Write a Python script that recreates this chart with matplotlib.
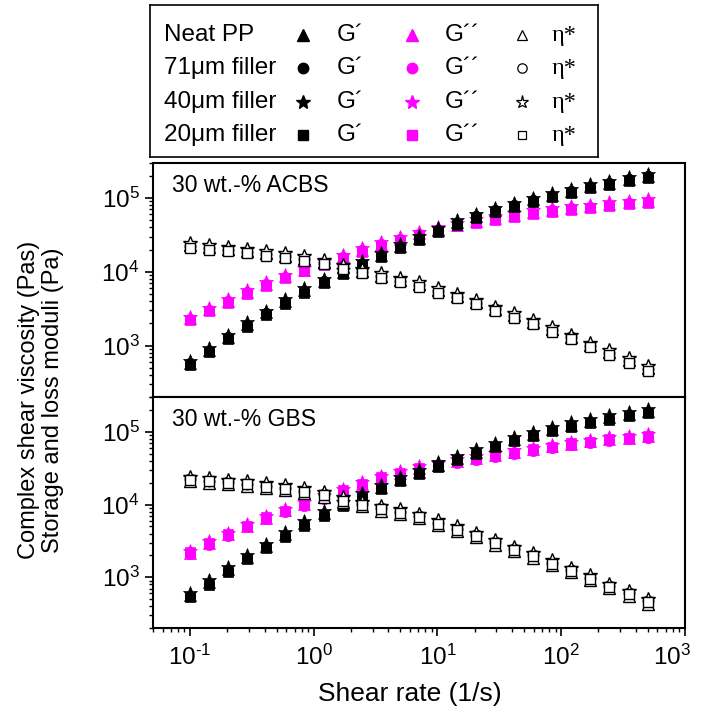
import numpy as np
import matplotlib.pyplot as plt
import matplotlib.transforms as mtransforms
from matplotlib.ticker import FuncFormatter

plt.rcParams['font.family'] = ['Liberation Sans', 'DejaVu Sans']
plt.rcParams['mathtext.fontset'] = 'custom'
plt.rcParams['mathtext.rm'] = 'Liberation Sans'

# shear rate (1/s), same for every run
rate = [0.1, 0.1426, 0.2033, 0.29, 0.4135, 0.5896, 0.8408, 1.199, 1.709, 2.437,
        3.475, 4.956, 7.068, 10.08, 14.37, 20.49, 29.22, 41.67, 59.41, 84.73,
        120.8, 172.3, 245.6, 350.3, 499.4]

fillers = ['Neat PP', '71\u03bcm filler', '40\u03bcm filler', '20\u03bcm filler']
markers = ['^', 'o', '*', 's']
msizes = [8.5, 7.5, 10.5, 7]

# ---- 30 wt.-% ACBS ----
# loss modulus G'' (Pa)
acbs_g2_neat = [2340, 3090, 4070, 5370, 6920, 8710, 10700, 13200, 16200, 20000, 24000, 28200, 33100,
                38000, 43700, 49000, 53700, 58900, 64600, 69200, 74100, 77600, 83200, 87100, 91200]
acbs_g2_71 = [2290, 3030, 3990, 5260, 6780, 8540, 10500, 12900, 15900, 19600, 23500, 27600, 32400,
              37200, 42800, 48000, 52600, 57700, 63300, 67800, 72600, 76000, 81500, 85400, 89400]
acbs_g2_40 = [2460, 3240, 4270, 5640, 7270, 9150, 11200, 13900, 17000, 21000, 25200, 29600, 34800,
              39900, 45900, 51500, 56400, 61800, 67800, 72700, 77800, 81500, 87400, 91500, 95800]
acbs_g2_20 = [2200, 2900, 3830, 5050, 6500, 8190, 10100, 12400, 15200, 18800, 22600, 26500, 31100,
              35700, 41100, 46100, 50500, 55400, 60700, 65000, 69700, 72900, 78200, 81900, 85700]
# storage modulus G' (Pa)
acbs_g1_neat = [589, 871, 1320, 1950, 2820, 3980, 5620, 7590, 10000, 13200, 17000, 22400, 28800,
                37200, 46800, 57500, 69200, 81300, 95500, 110000, 126000, 145000, 162000, 182000, 200000]
acbs_g1_71 = [577, 854, 1290, 1910, 2760, 3900, 5510, 7440, 9800, 12900, 16700, 22000, 28200,
              36500, 45900, 56400, 67800, 79700, 93600, 108000, 123000, 142000, 159000, 178000, 196000]
acbs_g1_40 = [624, 923, 1400, 2070, 2990, 4220, 5960, 8050, 10600, 14000, 18000, 23700, 30500,
              39400, 49600, 61000, 73400, 86200, 101000, 117000, 134000, 154000, 172000, 193000, 212000]
acbs_g1_20 = [548, 810, 1230, 1810, 2620, 3700, 5230, 7060, 9300, 12300, 15800, 20800, 26800,
              34600, 43500, 53500, 64400, 75600, 88800, 102000, 117000, 135000, 151000, 169000, 186000]
# complex viscosity eta* (Pas)
acbs_eta_neat = [22900, 21400, 20400, 19100, 17800, 16600, 15100, 13500, 11700, 10200, 8910, 7760, 6760,
                 5620, 4680, 3890, 3160, 2570, 2090, 1660, 1320, 1020, 813, 631, 490]
acbs_eta_71 = [22400, 21000, 20000, 18700, 17400, 16300, 14800, 13200, 11500, 10000, 8730, 7600, 6620,
               5510, 4590, 3810, 3100, 2520, 2050, 1630, 1290, 1000, 797, 618, 480]
acbs_eta_40 = [24500, 22900, 21800, 20400, 19000, 17800, 16200, 14400, 12500, 10900, 9530, 8300, 7230,
               6010, 5010, 4160, 3380, 2750, 2240, 1780, 1410, 1090, 870, 675, 524]
acbs_eta_20 = [21300, 19900, 19000, 17800, 16600, 15400, 14000, 12600, 10900, 9490, 8290, 7220, 6290,
               5230, 4350, 3620, 2940, 2390, 1940, 1540, 1230, 949, 756, 587, 456]

# ---- 30 wt.-% GBS ----
gbs_g2_neat = [2190, 2950, 3890, 5130, 6610, 8320, 10200, 12600, 15500, 19100, 23400, 27500, 31600,
               35500, 39800, 43700, 47900, 52500, 57500, 63100, 69200, 74100, 79400, 83200, 87100]
gbs_g2_71 = [2080, 2800, 3700, 4870, 6280, 7900, 9690, 12000, 14700, 18100, 22200, 26100, 30000,
             33700, 37800, 41500, 45500, 49900, 54600, 59900, 65700, 70400, 75400, 79000, 82700]
gbs_g2_40 = [2320, 3130, 4120, 5440, 7010, 8820, 10800, 13400, 16400, 20200, 24800, 29200, 33500,
             37600, 42200, 46300, 50800, 55700, 61000, 66900, 73400, 78500, 84200, 88200, 92300]
gbs_g2_20 = [2210, 2920, 3930, 5080, 6680, 8240, 10300, 12500, 15700, 18900, 23600, 27200, 31900,
             35100, 40200, 43300, 48400, 52000, 58100, 62500, 69900, 73400, 80200, 82400, 88000]
gbs_g1_neat = [575, 851, 1290, 1910, 2690, 3890, 5500, 7590, 10200, 13500, 17400, 22400, 28200,
               35500, 43700, 53700, 66100, 79400, 93300, 110000, 126000, 141000, 158000, 178000, 195000]
gbs_g1_71 = [552, 817, 1240, 1830, 2580, 3730, 5280, 7290, 9790, 13000, 16700, 21500, 27100,
             34100, 42000, 51600, 63500, 76200, 89600, 106000, 121000, 135000, 152000, 171000, 187000]
gbs_g1_40 = [615, 911, 1380, 2040, 2880, 4160, 5890, 8120, 10900, 14400, 18600, 24000, 30200,
             38000, 46800, 57500, 70700, 85000, 99800, 118000, 135000, 151000, 169000, 190000, 209000]
gbs_g1_20 = [535, 791, 1200, 1780, 2500, 3620, 5120, 7060, 9490, 12600, 16200, 20800, 26200,
             33000, 40600, 49900, 61500, 73800, 86800, 102000, 117000, 131000, 147000, 166000, 181000]
gbs_eta_neat = [20800, 19900, 19000, 18100, 16900, 15800, 14400, 12800, 10900, 9490, 8290, 7380, 6440,
                5230, 4350, 3530, 2810, 2280, 1860, 1470, 1170, 909, 706, 561, 435]
gbs_eta_71 = [22400, 21400, 20400, 19500, 18200, 17000, 15500, 13800, 11700, 10200, 8910, 7940, 6920,
              5620, 4680, 3800, 3020, 2450, 2000, 1580, 1260, 977, 759, 603, 468]
gbs_eta_40 = [24200, 23100, 22000, 21100, 19700, 18400, 16700, 14900, 12600, 11000, 9620, 8580, 7470,
              6070, 5050, 4100, 3260, 2650, 2160, 1710, 1360, 1060, 820, 651, 505]
gbs_eta_20 = [21700, 20800, 19800, 18900, 17700, 16500, 15000, 13400, 11300, 9890, 8640, 7700, 6710,
              5450, 4540, 3690, 2930, 2380, 1940, 1530, 1220, 948, 736, 585, 454]

acbs = [[acbs_g2_neat, acbs_g2_71, acbs_g2_40, acbs_g2_20],
        [acbs_g1_neat, acbs_g1_71, acbs_g1_40, acbs_g1_20],
        [acbs_eta_neat, acbs_eta_71, acbs_eta_40, acbs_eta_20]]
gbs = [[gbs_g2_neat, gbs_g2_71, gbs_g2_40, gbs_g2_20],
       [gbs_g1_neat, gbs_g1_71, gbs_g1_40, gbs_g1_20],
       [gbs_eta_neat, gbs_eta_71, gbs_eta_40, gbs_eta_20]]

magenta = '#FF00FF'


def decade(v, pos):
    # 10^n labels with a plain hyphen for negative powers
    n = int(round(np.log10(v)))
    s = str(n).replace('-', '\u2010')
    return '$\\mathdefault{10^{%s}}$' % s


fig = plt.figure(figsize=(7.01, 7.17), dpi=100)
ax1 = fig.add_axes([0.218, 0.446, 0.759, 0.327])
ax2 = fig.add_axes([0.218, 0.124, 0.759, 0.322], sharex=ax1)


def draw_panel(ax, sets, title):
    g2, g1, eta = sets
    for i in range(4):
        ax.plot(rate, g2[i], ls='none', marker=markers[i], ms=msizes[i],
                mfc=magenta, mec=magenta, mew=0.5)
    for i in range(4):
        ax.plot(rate, g1[i], ls='none', marker=markers[i], ms=msizes[i],
                mfc='black', mec='black', mew=0.5)
    for i in range(4):
        ax.plot(rate, eta[i], ls='none', marker=markers[i], ms=msizes[i],
                mfc='white', mec='black', mew=1.0)
    ax.set_xscale('log')
    ax.set_yscale('log')
    ax.set_xlim(0.05, 1000)
    ax.set_ylim(200, 3e5)
    ax.set_yticks([1e3, 1e4, 1e5])
    ax.tick_params(axis='both', which='major', direction='out', length=6, width=1.2, labelsize=17.5)
    ax.tick_params(axis='both', which='minor', direction='out', length=3, width=1.0)
    for sp in ax.spines.values():
        sp.set_linewidth(1.5)
    ax.text(0.036, 0.905, title, transform=ax.transAxes, fontsize=16.5, va='center', ha='left')


draw_panel(ax1, acbs, '30 wt.-% ACBS')
draw_panel(ax2, gbs, '30 wt.-% GBS')
ax1.tick_params(axis='x', which='both', length=0, labelbottom=False)
ax2.set_xticks([0.1, 1, 10, 100, 1000])
ax2.xaxis.set_major_formatter(FuncFormatter(decade))
ax2.tick_params(axis='x', which='major', pad=6)
ax2.set_xlabel('Shear rate (1/s)', fontsize=19)
ax2.xaxis.set_label_coords(0.483, -0.235)

# keep the last decade label inside the figure
last = ax2.xaxis.get_majorticklabels()[-1]
last.set_transform(last.get_transform() + mtransforms.ScaledTranslation(-9 / 72, 0, fig.dpi_scale_trans))

fig.text(0.058, 0.442, 'Complex shear viscosity (Pas)\nStorage and loss moduli (Pa)',
         rotation=90, ha='center', va='center', multialignment='center', fontsize=17,
         linespacing=1.1)

# legend box drawn by hand: one row per filler, three symbol columns
lg = fig.add_axes([0.214, 0.781, 0.639, 0.212])
lg.set_xlim(0, 448)
lg.set_ylim(152, 0)
lg.set_xticks([])
lg.set_yticks([])
for sp in lg.spines.values():
    sp.set_linewidth(1.2)
rows = [30, 63, 97, 130]
for i, name in enumerate(fillers):
    y = rows[i]
    lg.text(14, y, name, fontsize=17.5, va='center', ha='left')
    lg.plot(153, y, marker=markers[i], ms=msizes[i], mfc='black', mec='black', ls='none')
    lg.text(187, y, 'G\u00b4', fontsize=17.5, va='center', ha='left')
    lg.plot(262, y, marker=markers[i], ms=msizes[i], mfc=magenta, mec=magenta, ls='none')
    lg.text(295, y, 'G\u00b4\u00b4', fontsize=17.5, va='center', ha='left')
    lg.plot(372, y, marker=markers[i], ms=msizes[i] * 0.9, mfc='white', mec='black', mew=0.9, ls='none')
    lg.text(402, y, '\u03b7*', fontsize=17.5, va='center', ha='left', family=['Liberation Serif', 'DejaVu Serif'])

fig.savefig('out.png', dpi=100)
